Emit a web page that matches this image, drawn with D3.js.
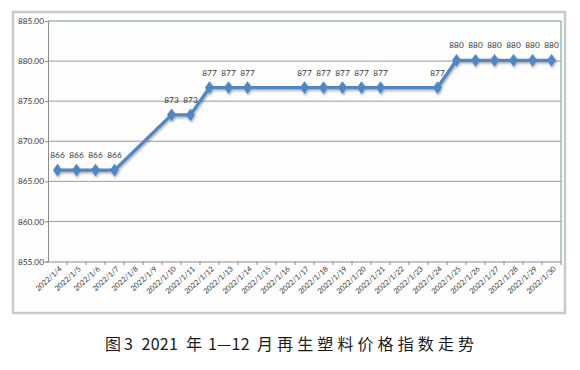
<!DOCTYPE html>
<html>
<head>
  <meta charset="UTF-8">
  <title>2021 年再生塑料价格指数走势</title>
  <style>
    body { margin: 0; background-color: #ffffff; }
    svg { display: block; }
  </style>
</head>
<body>
<svg></svg>
<script src="https://d3js.org/d3.v7.min.js"></script>
<script>

let width = 580, height = 370;

// categories (x axis)
let dates = ["2022/1/4", "2022/1/5", "2022/1/6", "2022/1/7", "2022/1/8", "2022/1/9",
  "2022/1/10", "2022/1/11", "2022/1/12", "2022/1/13", "2022/1/14", "2022/1/15",
  "2022/1/16", "2022/1/17", "2022/1/18", "2022/1/19", "2022/1/20", "2022/1/21",
  "2022/1/22", "2022/1/23", "2022/1/24", "2022/1/25", "2022/1/26", "2022/1/27",
  "2022/1/28", "2022/1/29", "2022/1/30"];

// index values, null = no trading day
let values = [866.4, 866.4, 866.4, 866.4, null, null,
  873.3, 873.3, 876.7, 876.7, 876.7, null,
  null, 876.7, 876.7, 876.7, 876.7, 876.7,
  null, null, 876.7, 880.1, 880.1, 880.1,
  880.1, 880.1, 880.1];

let yTicks = [855, 860, 865, 870, 875, 880, 885];

// caption pieces: [text, x, letter spacing]
let caption = [["图", 105, 0], ["3", 124, 0], ["2021", 141.5, 0.3], ["年", 186, 0],
  ["1—12", 208, 0.2], ["月再生塑料价格指数走势", 257, 4.1]];

let svg = d3.select("svg")
    .attr("width", width)
    .attr("height", height)
    .attr("viewBox", "0 0 " + width + " " + height);

let defs = svg.append("defs");
let shadow = defs.append("filter").attr("id", "shadow")
    .attr("x", "-20%").attr("y", "-20%").attr("width", "140%").attr("height", "160%");
shadow.append("feDropShadow")
    .attr("dx", 0.8).attr("dy", 1.5).attr("stdDeviation", 1)
    .attr("flood-color", "#000").attr("flood-opacity", 0.35);

// outer chart frame
svg.append("rect")
    .attr("x", 13).attr("y", 12)
    .attr("width", 552).attr("height", 301)
    .attr("fill", "#fdfdfd")
    .attr("stroke", "#c9c9c9")
    .attr("stroke-width", 2.5);

let plot = {left: 48, right: 561, top: 21, bottom: 261.5};

let x = d3.scaleBand()
    .domain(dates)
    .range([plot.left, plot.right]);

let y = d3.scaleLinear()
    .domain([855, 885])
    .range([plot.bottom, plot.top]);

// gridlines
svg.append("g")
    .selectAll("line")
    .data(yTicks.filter(d => d !== 885 && d !== 855))
    .enter()
    .append("line")
        .attr("x1", plot.left).attr("x2", plot.right)
        .attr("y1", d => y(d)).attr("y2", d => y(d))
        .attr("stroke", "#9a9a9a")
        .attr("stroke-width", 1);

// top and right border of plot area
svg.append("path")
    .attr("d", `M${plot.left},${y(885)}H${plot.right}V${plot.bottom}`)
    .attr("fill", "none")
    .attr("stroke", "#6b94a3")
    .attr("stroke-width", 1);

// y axis
let yAxis = svg.append("g")
    .attr("transform", `translate(${plot.left},0)`)
    .call(d3.axisLeft(y).tickValues(yTicks).tickFormat(d3.format(".2f")).tickSize(3));
yAxis.select(".domain").attr("stroke", "#8c8c8c");
yAxis.selectAll(".tick line").attr("stroke", "#8c8c8c");
yAxis.selectAll(".tick text")
    .attr("x", -4)
    .attr("fill", "#3a3a3a")
    .style("font-family", "Lato, 'Liberation Sans', sans-serif")
    .style("font-size", "8.3px");

// x axis, ticks at band edges
let xAxis = svg.append("g")
    .attr("transform", `translate(0,${plot.bottom})`)
    .call(d3.axisBottom(x).tickSize(0).tickSizeOuter(0));
xAxis.select(".domain").attr("stroke", "#8c8c8c");
xAxis.selectAll(".tick text")
    .attr("fill", "#3a3a3a")
    .style("font-family", "Lato, 'Liberation Sans', sans-serif")
    .style("font-size", "7.4px")
    .attr("text-anchor", "end")
    .attr("dy", 0)
    .attr("transform", "translate(3,6) rotate(-42)");

svg.append("g")
    .selectAll("line")
    .data(dates)
    .enter()
    .append("line")
        .attr("x1", d => x(d) + x.bandwidth()).attr("x2", d => x(d) + x.bandwidth())
        .attr("y1", plot.bottom).attr("y2", plot.bottom + 3.5)
        .attr("stroke", "#8c8c8c");

// line
let points = dates.map((d, i) => ({date: d, value: values[i]}))
    .filter(d => d.value !== null);

let line = d3.line()
    .x(d => x(d.date) + x.bandwidth() / 2)
    .y(d => y(d.value));

let series = svg.append("g").attr("filter", "url(#shadow)");

series.append("path")
    .datum(points)
    .attr("d", line)
    .attr("fill", "none")
    .attr("stroke", "#4f86c3")
    .attr("stroke-width", 3.2)
    .attr("stroke-linejoin", "round");

series.selectAll("path.marker")
    .data(points)
    .enter()
    .append("path")
        .attr("class", "marker")
        .attr("d", d3.symbol().type(d3.symbolDiamond).size(52))
        .attr("transform", d => `translate(${x(d.date) + x.bandwidth() / 2},${y(d.value)}) scale(1.15,0.95)`)
        .attr("fill", "#4f86c3");

// data labels
svg.append("g")
    .selectAll("text")
    .data(points)
    .enter()
    .append("text")
        .attr("x", d => x(d.date) + x.bandwidth() / 2)
        .attr("y", d => y(d.value) - 12)
        .attr("text-anchor", "middle")
        .attr("fill", "#3a3a3a")
        .style("font-family", "Lato, 'Liberation Sans', sans-serif")
        .style("font-size", "8.3px")
        .text(d => d3.format(".0f")(d.value));

// caption
svg.append("text")
    .attr("y", 350)
    .attr("fill", "#1a1a1a")
    .style("font-family", "'Noto Sans CJK SC', sans-serif")
    .style("font-size", "16px")
    .selectAll("tspan")
    .data(caption)
    .enter()
    .append("tspan")
        .attr("x", d => d[1])
        .attr("letter-spacing", d => d[2])
        .text(d => d[0]);

</script>
</body>
</html>
